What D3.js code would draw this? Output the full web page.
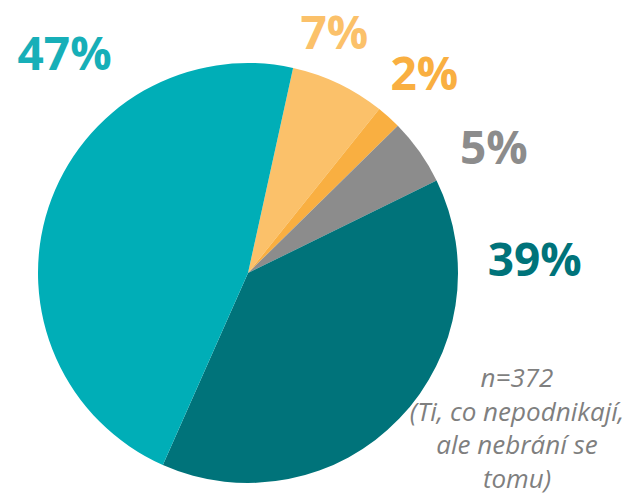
<!DOCTYPE html>
<html>
<head>
<meta charset="utf-8">
<script src="https://cdn.jsdelivr.net/npm/d3@7"></script>
<style>
  body { margin: 0; background: #fff; }
  svg { display: block; }
</style>
</head>
<body>
<script>
// slice values (percent), clockwise from the top
var categories = ['a', 'b', 'c', 'd', 'e'];
var values = [7.3, 1.9, 5.1, 38.9, 46.8];
var labels = ['7%', '2%', '5%', '39%', '47%'];
var noteLines = ['n=372', '(Ti, co nepodnikají,', 'ale nebrání se', 'tomu)'];

var colors = ['#FBC16A', '#F9AF41', '#8C8C8C', '#00737A', '#00AEB7'];
var labelColors = ['#FBC16A', '#F9AF41', '#8C8C8C', '#00737A', '#17AFB8'];

var width = 633, height = 494;
var cx = 248, cy = 273, radius = 210;
var startDeg = 12.4;

// label spots, polar around the pie centre (deg clockwise from 12 o'clock, px)
var labelSpots = [[19.7, 256], [41.5, 266], [63.0, 276], [87.2, 287], [-39.9, 286]];

var svg = d3.select('body').append('svg')
  .attr('width', width)
  .attr('height', height);

var pie = d3.pie()
  .sort(null)
  .value(function(d) { return d; })
  .startAngle(startDeg * Math.PI / 180)
  .endAngle(startDeg * Math.PI / 180 + 2 * Math.PI);

var arc = d3.arc().innerRadius(0).outerRadius(radius);

var g = svg.append('g')
  .attr('transform', 'translate(' + cx + ',' + cy + ')');

g.selectAll('path.slice')
  .data(pie(values))
  .enter()
  .append('path')
  .classed('slice', true)
  .attr('d', arc)
  .attr('fill', function(d, i) { return colors[i]; });

g.selectAll('text.pct')
  .data(labels)
  .enter()
  .append('text')
  .classed('pct', true)
  .attr('transform', function(d, i) {
    var p = d3.pointRadial(labelSpots[i][0] * Math.PI / 180, labelSpots[i][1]);
    return 'translate(' + p[0] + ',' + p[1] + ')';
  })
  .attr('dy', '0.36em')
  .style('text-anchor', 'middle')
  .style('font-family', '"Open Sans", sans-serif')
  .style('font-weight', 'bold')
  .style('font-size', '46px')
  .style('fill', function(d, i) { return labelColors[i]; })
  .text(function(d) { return d; });

svg.append('text')
  .attr('x', 517)
  .attr('y', 387)
  .style('text-anchor', 'middle')
  .style('font-family', '"Open Sans", sans-serif')
  .style('font-style', 'italic')
  .style('font-size', '26px')
  .style('fill', '#7F7F7F')
  .selectAll('tspan')
  .data(noteLines)
  .enter()
  .append('tspan')
  .attr('x', 517)
  .attr('dy', function(d, i) { return i === 0 ? 0 : 33.5; })
  .text(function(d) { return d; });
</script>
</body>
</html>
